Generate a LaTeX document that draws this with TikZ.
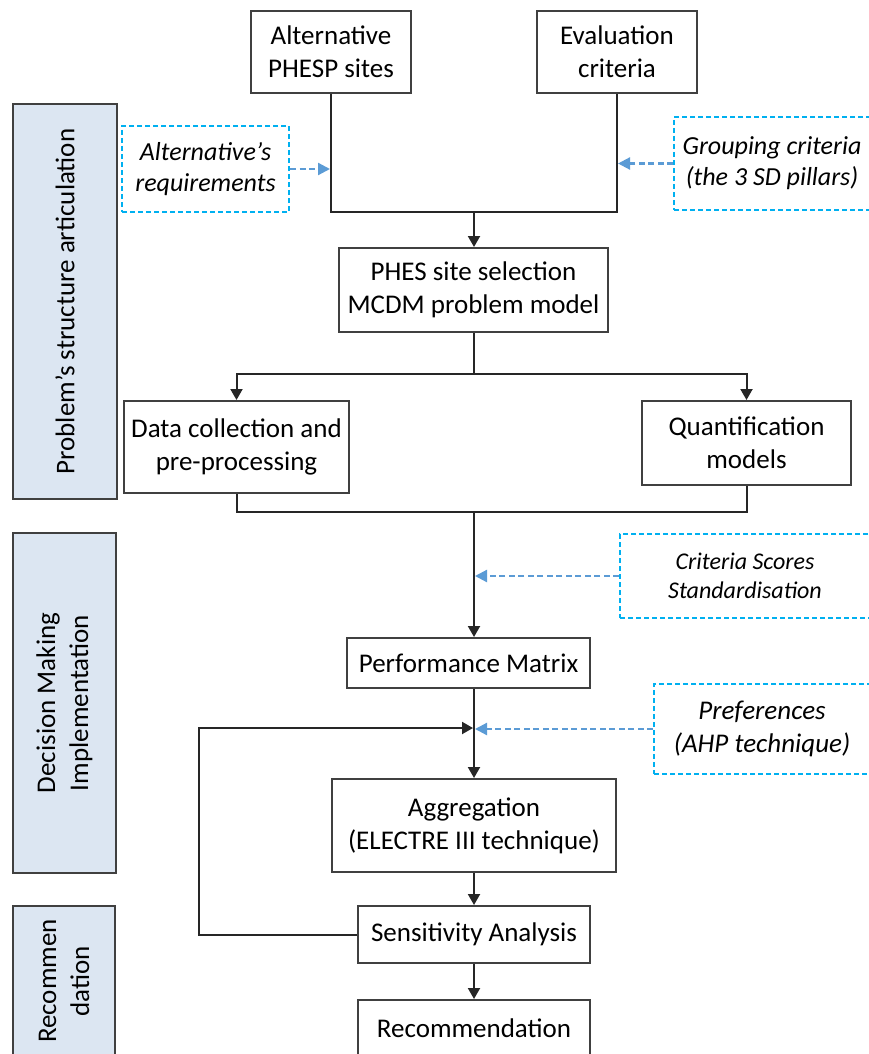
\documentclass[tikz,border=0pt]{standalone}
\usepackage{fontspec}
\setmainfont{Carlito}
\usetikzlibrary{arrows.meta,calc}
\definecolor{boxline}{HTML}{404040}
\definecolor{dashcyan}{HTML}{00B0F0}
\definecolor{dasharrow}{HTML}{5B9BD5}
\definecolor{sidefill}{HTML}{DCE6F2}
\begin{document}
\begin{tikzpicture}[x=1pt,y=-1pt,
  box/.style={draw=boxline, line width=2pt, fill=white, align=center, inner sep=0pt, font=\fontsize{27}{33}\selectfont},
  dbox/.style={draw=dashcyan, line width=2pt, dash pattern=on 5pt off 3pt, align=center, inner sep=0pt, font=\fontsize{26}{31}\selectfont\itshape},
  side/.style={draw=boxline, line width=2pt, fill=sidefill, align=center, inner sep=0pt, rotate=90, font=\fontsize{27}{33}\selectfont},
  conn/.style={draw=black!85, line width=2pt},
  arr/.style={conn, -{Triangle[length=11pt,width=12pt]}},
  darr/.style={draw=dasharrow, line width=2.2pt, dash pattern=on 6pt off 3.5pt, -{Triangle[length=12pt,width=12pt]}, shorten >=1pt}
]
\useasboundingbox (0,0) rectangle (869,1054);
\clip (0,0) rectangle (869,1054);
\fill[white] (0,0) rectangle (869,1054);

% side labels
\node[side, minimum width=395pt, minimum height=104pt] (s1) at (65,301.5) {Problem’s structure articulation};
\node[side, minimum width=340pt, minimum height=103pt] (s2) at (64.5,703) {Decision Making\\Implementation};
\node[side, minimum width=150pt, minimum height=102pt] (s3) at (64,981) {Recommen\\dation};

% main boxes
\node[box, minimum width=160pt, minimum height=82pt] (alt) at (331,52) {Alternative\\PHESP sites};
\node[box, minimum width=160pt, minimum height=82pt] (eval) at (617,52) {Evaluation\\criteria};
\coordinate (j1) at (474,212);
\node[box, minimum width=269pt, minimum height=84pt] (phes) at (473.5,290) {PHES site selection\\MCDM problem model};
\coordinate (j2) at (474,374);
\node[box, minimum width=225pt, minimum height=92pt] (data) at (236.5,447) {Data collection and\\pre-processing};
\node[box, minimum width=209pt, minimum height=84pt] (quant) at (746.5,443) {Quantification\\models};
\coordinate (j3) at (474,512);
\node[box, minimum width=243pt, minimum height=50pt] (perf) at (468.5,663) {Performance Matrix};
\coordinate (j4) at (474,728);
\node[box, minimum width=284pt, minimum height=93pt] (agg) at (474,825.5) {Aggregation\\(ELECTRE III technique)};
\node[box, minimum width=232pt, minimum height=57pt] (sens) at (474,934.5) {Sensitivity Analysis};
\node[box, minimum width=232pt, minimum height=57pt] (rec) at (474,1028.5) {Recommendation};
\coordinate (fb) at (199,728);

% connectors
\draw[conn] (alt.south) |- (j1);
\draw[conn] (eval.south) |- (j1);
\draw[arr] (j1) -- (j1 |- phes.north);
\draw[conn] (j2 |- phes.south) -- (j2);
\draw[arr] (j2) -| (data.north);
\draw[arr] (j2) -| (quant.north);
\draw[conn] (data.south) |- (j3);
\draw[conn] (quant.south) |- (j3);
\draw[arr] (j3) -- (j3 |- perf.north);
\draw[arr] (j4 |- perf.south) -- (agg.north);
\draw[arr] (agg.south) -- (sens.north);
\draw[arr] (sens.south) -- (rec.north);
\draw[arr, shorten >=1pt] (sens.west) -| (fb) -- (j4);

% dashed boxes
\node[dbox, minimum width=167pt, minimum height=86pt] (areq) at (205.5,169) {Alternative’s\\requirements};
\node[dbox, minimum width=196pt, minimum height=93pt] (grp) at (772,163.5) {Grouping criteria\\(the 3 SD pillars)};
\node[dbox, minimum width=250pt, minimum height=84pt, font=\fontsize{24}{29}\selectfont\itshape] (crit) at (745,576) {Criteria Scores\\Standardisation};
\node[dbox, minimum width=216pt, minimum height=90pt, font=\fontsize{27}{33}\selectfont\itshape] (pref) at (762,729) {Preferences\\(AHP technique)};

\draw[darr] (areq.east) -- (areq.east -| alt.south);
\draw[darr] (grp.west) -- (grp.west -| eval.south);
\draw[darr] (crit.west) -- (crit.west -| j3);
\draw[darr] (pref.west) -- (pref.west -| j4);
\end{tikzpicture}
\end{document}
